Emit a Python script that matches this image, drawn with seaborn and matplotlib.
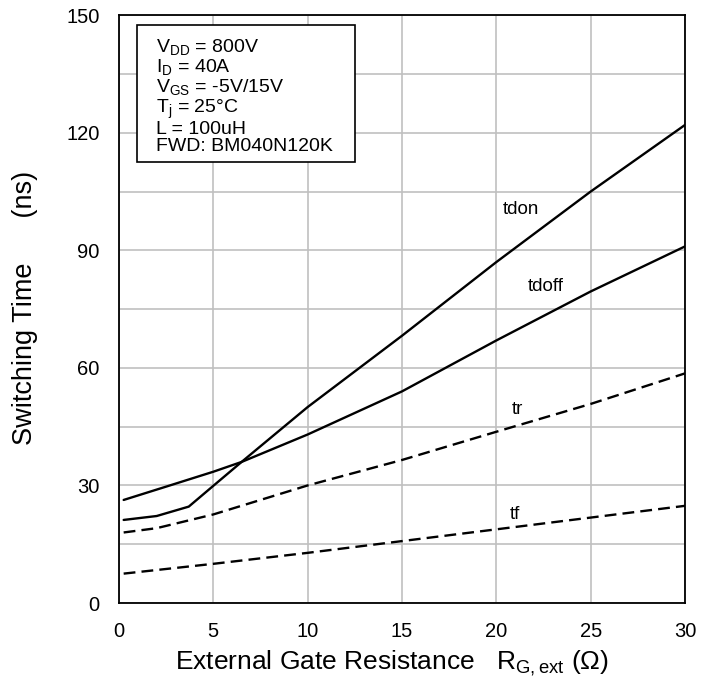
import seaborn as sns
import matplotlib.pyplot as plt
from matplotlib.patches import Rectangle
import numpy as np
import pandas as pd

# 读出的曲线数据 (R_G,ext in ohm, time in ns)
x_tdon = [0.25, 2.0, 3.7, 5.0, 6.5, 10, 15, 20, 25, 30]
y_tdon = [21.2, 22.2, 24.6, 29.9, 36.0, 50.0, 68.2, 87.0, 105.0, 122.0]

x_tdoff = [0.25, 2.5, 5.0, 6.5, 10, 15, 20, 25, 30]
y_tdoff = [26.3, 29.7, 33.5, 36.0, 43.0, 54.0, 67.0, 79.5, 91.0]

x_tr = [0.25, 2.0, 5.0, 10, 15, 20, 25, 30]
y_tr = [18.0, 19.1, 22.6, 30.0, 36.5, 43.7, 50.8, 58.6]

x_tf = [0.25, 5.0, 10, 15, 20, 25, 30]
y_tf = [7.5, 10.0, 12.8, 15.8, 18.8, 21.8, 24.8]

labels = ['tdon', 'tdoff', 'tr', 'tf']
label_pos = [(21.3, 100.3), (22.6, 80.7), (21.1, 49.3), (21.0, 22.5)]

cond_lines = ['V$_{\\mathrm{DD}}$ = 800V',
              'I$_{\\mathrm{D}}$ = 40A',
              'V$_{\\mathrm{GS}}$ = -5V/15V',
              'T$_{\\mathrm{j}}$ = 25°C',
              'L = 100uH',
              'FWD: BM040N120K']

sns.set_theme(style='white')
plt.rcParams['font.family'] = ['Liberation Sans', 'DejaVu Sans']
plt.rcParams['mathtext.fontset'] = 'custom'
plt.rcParams['mathtext.rm'] = 'Liberation Sans'

fig = plt.figure(figsize=(7.08, 6.92), dpi=100)
ax = fig.add_axes([0.168, 0.1286, 0.7995, 0.8494])

dash = (5, 2.6)
sns.lineplot(x=x_tdon, y=y_tdon, ax=ax, sort=False, color='black', linewidth=1.7)
sns.lineplot(x=x_tdoff, y=y_tdoff, ax=ax, sort=False, color='black', linewidth=1.7)
sns.lineplot(x=x_tr, y=y_tr, ax=ax, sort=False, color='black', linewidth=1.7)
ax.lines[-1].set_dashes(dash)
sns.lineplot(x=x_tf, y=y_tf, ax=ax, sort=False, color='black', linewidth=1.7)
ax.lines[-1].set_dashes(dash)

for lab, (lx, ly) in zip(labels, label_pos):
    ax.text(lx, ly, lab, fontsize=13.5, ha='center', va='center', color='black')

ax.set_xlim(0, 30)
ax.set_ylim(0, 150)
ax.set_xticks(np.arange(0, 31, 5))
ax.set_yticks(np.arange(0, 151, 30))
ax.set_yticks(np.arange(15, 150, 30), minor=True)
ax.grid(True, which='major', color='#c0c0c0', linewidth=1.2)
ax.grid(True, which='minor', axis='y', color='#c0c0c0', linewidth=1.2)
ax.set_axisbelow(True)
ax.tick_params(axis='both', which='both', length=0, pad=14, labelsize=14.5, colors='black')
for s in ax.spines.values():
    s.set_color('black')
    s.set_linewidth(1.3)

ax.set_xlabel('External Gate Resistance   R$_{\\mathrm{G,ext}}$ (Ω)', fontsize=19, color='black')
ax.xaxis.set_label_coords(0.483, -0.077)
ax.set_ylabel('Switching Time      (ns)', fontsize=19.5, color='black')
ax.yaxis.set_label_coords(-0.143, 0.502)

# 条件框
ax.add_patch(Rectangle((0.0318, 0.75), 0.385, 0.233, transform=ax.transAxes,
                       facecolor='white', edgecolor='black', linewidth=1.2, zorder=3))
ax.text(0.065, 0.962, '\n'.join(cond_lines), transform=ax.transAxes, fontsize=14,
        ha='left', va='top', linespacing=0.98, color='black', zorder=4)

fig.savefig('out.png', dpi=100)
